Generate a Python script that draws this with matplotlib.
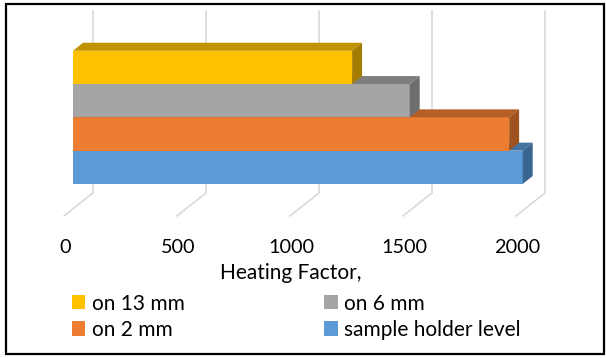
import matplotlib.pyplot as plt
from matplotlib.patches import Polygon, Rectangle

# data
series = ["sample holder level", "on 2 mm", "on 6 mm", "on 13 mm"]
values = [1990, 1930, 1490, 1235]
ticks = [0, 500, 1000, 1500, 2000]
xlabel = "Heating Factor,"

front_cols = ["#5B9BD5", "#ED7D31", "#A5A5A5", "#FFC000"]
top_cols = ["#44739F", "#B45F23", "#7E7E7E", "#C29300"]
side_cols = ["#3A6590", "#A0521E", "#6E6E6E", "#A47C00"]

plt.rcParams["font.family"] = ["Lato", "DejaVu Sans"]

fig = plt.figure(figsize=(6.06, 3.58), dpi=100)
ax = fig.add_axes([0, 0, 1, 1])
ax.set_xlim(-323.0, 2358.4)
ax.set_ylim(-5.727, 5.024)
ax.axis("off")

# 3d offsets (oblique projection)
dx, dy = 44, 0.24
wall_dx, floor_dx = 88.5, -39.8
wall_top, wall_bot, floor_front = 4.69, -0.77, -1.46

# gridlines: back wall + floor
for t in ticks:
    ax.plot([t + wall_dx, t + wall_dx, t + floor_dx],
            [wall_top, wall_bot, floor_front],
            color="#d9d9d9", lw=1.2, zorder=1, solid_joinstyle="miter")
    ax.text(t + floor_dx + 4, -2.41, str(t), ha="center", va="center", fontsize=14.3)

bars = []
for i, (name, v) in enumerate(zip(series, values)):
    b = ax.barh(i, v, height=1.0, color=front_cols[i], label=name, zorder=2 + i)
    bars.append(b)
    top = Polygon([(0, i + 0.5), (dx, i + 0.5 + dy), (v + dx, i + 0.5 + dy), (v, i + 0.5)],
                  closed=True, facecolor=top_cols[i], edgecolor="none", zorder=2 + i)
    side = Polygon([(v, i - 0.5), (v, i + 0.5), (v + dx, i + 0.5 + dy), (v + dx, i - 0.5 + dy)],
                   closed=True, facecolor=side_cols[i], edgecolor="none", zorder=2 + i)
    ax.add_patch(top)
    ax.add_patch(side)

fig.text(0.479, 0.238, xlabel, ha="center", va="center", fontsize=15)

order = [3, 1, 2, 0]
fig.legend([bars[k] for k in order], [series[k] for k in order], ncol=2,
           loc="upper left", bbox_to_anchor=(0.118, 0.18), frameon=False,
           fontsize=15, handlelength=0.67, handleheight=0.67, handletextpad=0.3,
           columnspacing=6.7, labelspacing=0.3, borderpad=0, borderaxespad=0)

fig.patches.append(Rectangle((6 / 606, 4 / 358), 598 / 606, 350 / 358,
                             transform=fig.transFigure, fill=False,
                             edgecolor="black", lw=1.6))

fig.savefig("out.png", dpi=100)
